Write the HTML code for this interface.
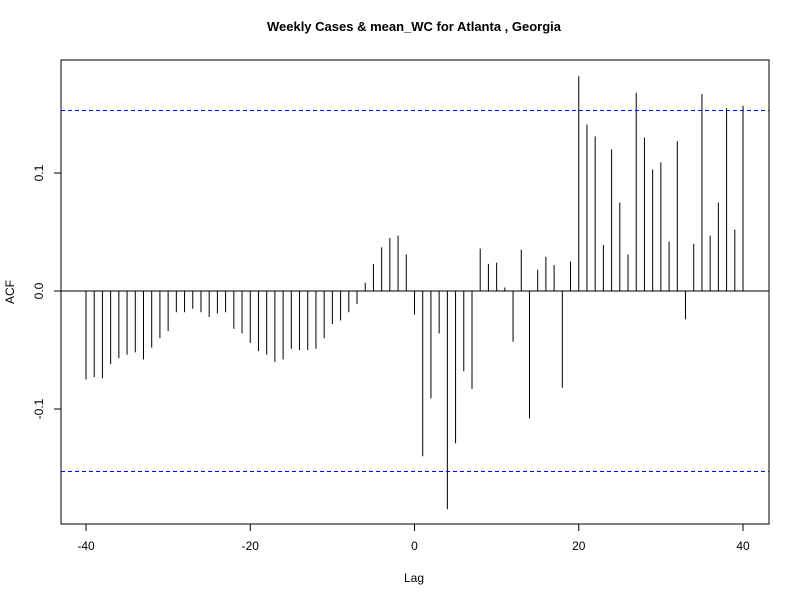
<!DOCTYPE html>
<html><head><meta charset="utf-8"><style>
body{margin:0;background:#fff}
svg text{font-family:"Liberation Sans",Arial,sans-serif;fill:#000}
</style></head><body>
<svg id="chart" width="800" height="600" xmlns="http://www.w3.org/2000/svg">
<rect width="800" height="600" fill="#fff"/>
<text x="414" y="31" font-size="13" font-weight="bold" text-anchor="middle">Weekly Cases &amp; mean_WC for Atlanta , Georgia</text>
<text x="414" y="582" font-size="12" text-anchor="middle">Lag</text>
<text transform="translate(14,292) rotate(-90)" font-size="12" text-anchor="middle">ACF</text>
<rect x="61" y="60" width="708" height="464" fill="none" stroke="#000" stroke-width="1"/>
<g id="marks"></g>
</svg>
<script>
const lags = [];
for (let i = -40; i <= 40; i++) lags.push(i);
const acfValues = [
-0.075,-0.073,-0.074,-0.062,-0.057,-0.054,-0.052,-0.058,-0.048,-0.040,
-0.034,-0.018,-0.018,-0.015,-0.018,-0.022,-0.019,-0.018,-0.032,-0.036,
-0.044,-0.051,-0.054,-0.060,-0.058,-0.049,-0.050,-0.050,-0.049,-0.040,
-0.028,-0.025,-0.018,-0.011,0.007,0.023,0.037,0.045,0.047,0.031,
-0.020,-0.140,-0.091,-0.036,-0.185,-0.129,-0.068,-0.083,0.036,0.023,
0.024,0.003,-0.043,0.035,-0.108,0.018,0.029,0.022,-0.082,0.025,
0.182,0.141,0.131,0.039,0.120,0.075,0.031,0.168,0.130,0.103,
0.109,0.042,0.127,-0.024,0.040,0.167,0.047,0.075,0.155,0.052,0.157];
const xTicks = [-40,-20,0,20,40];
const yTicks = [-0.1,0.0,0.1];
const yTickLabels = ["-0.1","0.0","0.1"];
const confLimit = 0.153;

const X = v => 414.5 + v * 8.2125;
const Y = v => 291 - v * 1180;
const NS = "http://www.w3.org/2000/svg";
const g = document.getElementById("marks");
function mk(tag, attrs){const e=document.createElementNS(NS,tag);for(const k in attrs)e.setAttribute(k,attrs[k]);g.appendChild(e);return e;}

lags.forEach((l,i)=>{
  const b = mk("line",{x1:X(l),x2:X(l),y1:Y(0),y2:Y(acfValues[i]),stroke:"#000","stroke-width":1});
  
  
});
const z = mk("line",{x1:61,x2:769,y1:Y(0),y2:Y(0),stroke:"#000","stroke-width":1});


const up = mk("line",{x1:61,x2:769,y1:Y(confLimit),y2:Y(confLimit),stroke:"#0000ff","stroke-width":1,"stroke-dasharray":"4,3"});


const lo = mk("line",{x1:61,x2:769,y1:Y(-confLimit),y2:Y(-confLimit),stroke:"#0000ff","stroke-width":1,"stroke-dasharray":"4,3"});


xTicks.forEach(t=>{
  const tk = mk("line",{x1:X(t),x2:X(t),y1:524,y2:531,stroke:"#000"});
  
  
  const tx = mk("text",{x:X(t),y:550,"font-size":12,"text-anchor":"middle"});
  tx.textContent = t;
  
  
});
yTicks.forEach((t,i)=>{
  const tk = mk("line",{x1:54,x2:61,y1:Y(t),y2:Y(t),stroke:"#000"});
  
  
  const tx = mk("text",{transform:`translate(43,${Y(t)}) rotate(-90)`,"font-size":12,"text-anchor":"middle"});
  tx.textContent = yTickLabels[i];
  
  
});
</script>
</body></html>
